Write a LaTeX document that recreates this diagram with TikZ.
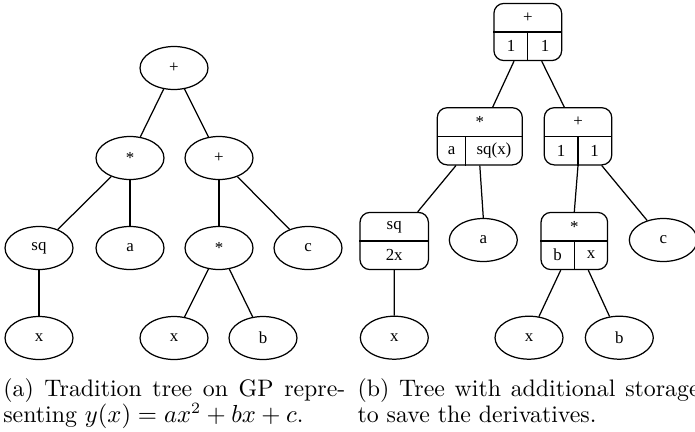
\documentclass[tikz,border=0pt]{standalone}
\usepackage{fontspec}
\newfontfamily\nodefont{Liberation Serif}
\usetikzlibrary{shapes.geometric}
\begin{document}
\begin{tikzpicture}[x=0.4444pt,y=-0.4444pt, line width=0.55pt,
  ell/.style={draw, ellipse, minimum width=30.2pt, minimum height=19.1pt, inner sep=0pt, font=\nodefont\fontsize{7.5}{8.5}\selectfont},
  rec/.style={draw, rounded corners=4.4pt, minimum height=25.4pt, inner sep=0pt},
  lbl/.style={inner sep=0pt, font=\nodefont\fontsize{7.5}{8.5}\selectfont},
  captext/.style={anchor=north west, inner sep=0pt, text width=152pt, align=justify, font=\fontsize{10.6}{11.8}\selectfont}
]
\useasboundingbox (0,0) rectangle (695,431);

% ---------- left tree ----------
\node[ell] (l0) at (174,68) {+};
\node[ell] (l1) at (130,158) {*};
\node[ell] (l2) at (219,158) {+};
\node[ell] (l3) at (39,248) {sq};
\node[ell] (l4) at (130,248) {a};
\node[ell] (l5) at (219,248) {*};
\node[ell] (l6) at (308,248) {c};
\node[ell] (l7) at (39,338) {x};
\node[ell] (l8) at (174,338) {x};
\node[ell] (l9) at (263,338) {b};
\draw (l0) -- (l1);
\draw (l0) -- (l2);
\draw (l1) -- (l3);
\draw (l1) -- (l4);
\draw (l2) -- (l5);
\draw (l2) -- (l6);
\draw (l3) -- (l7);
\draw (l5) -- (l8);
\draw (l5) -- (l9);

% ---------- right tree ----------
\node[rec, minimum width=30.1pt] (r0) at (527.8,32) {};
\draw (r0.west) -- (r0.east);
\draw (r0.center) -- (r0.south);
\node[lbl] (r0t) at (527.8,17.5) {+};
\node[lbl] (r0a) at (511,46.3) {1};
\node[lbl] (r0b) at (545,46.3) {1};

\node[rec, minimum width=37.8pt] (rm) at (479.8,136.3) {};
\draw (rm.west) -- (rm.east);
\draw ([shift={(-14.1,0)}]rm.center) -- ([shift={(-14.1,0)}]rm.south);
\node[lbl] (rmt) at (479.8,121.8) {*};
\node[lbl] (rma) at (451.5,150.6) {a};
\node[lbl] (rmb) at (494,150.6) {sq(x)};

\node[rec, minimum width=30pt] (rp) at (578,136.3) {};
\draw (rp.west) -- (rp.east);
\draw (rp.center) -- (rp.south);
\node[lbl] (rpt) at (578,121.8) {+};
\node[lbl] (rpa) at (561,150.6) {1};
\node[lbl] (rpb) at (594.7,150.6) {1};

\node[rec, minimum width=30.4pt] (rsq) at (394.2,241) {};
\draw (rsq.west) -- (rsq.east);
\node[lbl] (rsqt) at (394.2,226.8) {sq};
\node[lbl] (rsqb) at (394.2,255) {2x};

\node[rec, minimum width=29.6pt] (rm2) at (574.3,241) {};
\draw (rm2.west) -- (rm2.east);
\draw (rm2.center) -- (rm2.south);
\node[lbl] (rm2t) at (574.3,226.8) {*};
\node[lbl] (rm2a) at (557.7,255) {b};
\node[lbl] (rm2b) at (591,255) {x};

\node[ell] (ea) at (483.3,240) {a};
\node[ell] (ec) at (663.3,240) {c};
\node[ell] (ex1) at (394.3,337.7) {x};
\node[ell] (ex2) at (529,337.7) {x};
\node[ell] (eb) at (619.3,337.7) {b};

\draw ([shift={(-13.8,0)}]r0.south) -- ([shift={(12.9,0)}]rm.north);
\draw ([shift={(13.9,0)}]r0.south) -- ([shift={(-13.7,0)}]rp.north);
\draw ([shift={(-23.8,0)}]rm.south) -- ([shift={(23.5,0)}]rsq.north);
\draw (rm.south) -- (ea.north);
\draw (rp.south) -- (rm2.north);
\draw ([shift={(23.7,0)}]rp.south) -- (ec);
\draw (rsq.south) -- (ex1.north);
\draw ([shift={(-13.6,0)}]rm2.south) -- (ex2);
\draw ([shift={(14,0)}]rm2.south) -- (eb);

% ---------- captions ----------
\node[captext] (capa) at (2.7,377.6) {(a) Tradition tree on GP repre-\linebreak senting $y(x) = ax^2 + bx + c$.};
\node[captext] (capb) at (357,377.6) {(b) Tree with additional storage\linebreak to save the derivatives.};
\end{tikzpicture}
\end{document}
